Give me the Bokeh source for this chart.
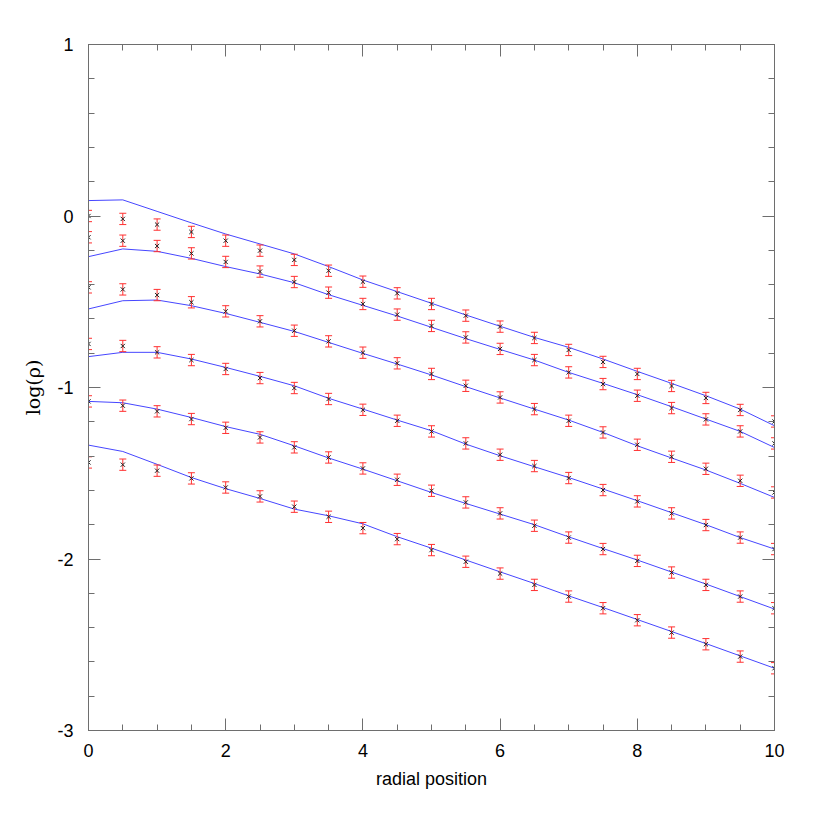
from bokeh.plotting import figure
from bokeh.models import (LinearAxis, SingleIntervalTicker, Range1d,
                          CustomJSTickFormatter)
from bokeh.embed import file_html
from bokeh.resources import INLINE

# ---------------- data ----------------
x_pos = [0.0, 0.5, 1.0, 1.5, 2.0, 2.5, 3.0, 3.5, 4.0, 4.5, 5.0,
         5.5, 6.0, 6.5, 7.0, 7.5, 8.0, 8.5, 9.0, 9.5, 10.0]

# measured points (black x with red error bars)
pts1 = [0.000, -0.017, -0.050, -0.093, -0.144, -0.202, -0.256, -0.319, -0.383, -0.451, -0.513,
        -0.581, -0.645, -0.711, -0.781, -0.851, -0.921, -0.991, -1.061, -1.131, -1.198]
pts2 = [-0.124, -0.144, -0.175, -0.218, -0.268, -0.324, -0.385, -0.447, -0.513, -0.575, -0.641,
        -0.708, -0.775, -0.840, -0.912, -0.980, -1.048, -1.120, -1.186, -1.256, -1.326]
pts3 = [-0.416, -0.428, -0.461, -0.503, -0.556, -0.614, -0.669, -0.731, -0.797, -0.859, -0.921,
        -0.990, -1.058, -1.126, -1.194, -1.262, -1.334, -1.404, -1.474, -1.544, -1.612]
pts4 = [-0.746, -0.758, -0.795, -0.840, -0.892, -0.945, -1.003, -1.067, -1.130, -1.194, -1.256,
        -1.326, -1.392, -1.458, -1.528, -1.598, -1.664, -1.734, -1.802, -1.875, -1.942]
pts5 = [-1.081, -1.106, -1.139, -1.184, -1.235, -1.291, -1.349, -1.408, -1.472, -1.538, -1.602,
        -1.670, -1.734, -1.806, -1.875, -1.942, -2.011, -2.079, -2.151, -2.219, -2.287]
pts6 = [-1.437, -1.450, -1.485, -1.530, -1.583, -1.635, -1.695, -1.754, -1.820, -1.884, -1.948,
        -2.016, -2.085, -2.151, -2.219, -2.287, -2.357, -2.429, -2.497, -2.569, -2.637]

# model curves (blue lines)
mod1 = [0.090, 0.094, 0.027, -0.040, -0.105, -0.163, -0.221, -0.295, -0.373, -0.441, -0.509,
        -0.577, -0.643, -0.708, -0.766, -0.834, -0.906, -0.976, -1.048, -1.126, -1.223]
mod2 = [-0.237, -0.192, -0.206, -0.247, -0.295, -0.338, -0.389, -0.459, -0.521, -0.583, -0.649,
        -0.715, -0.778, -0.840, -0.912, -0.976, -1.042, -1.112, -1.184, -1.256, -1.350]
mod3 = [-0.542, -0.494, -0.490, -0.523, -0.568, -0.620, -0.673, -0.737, -0.801, -0.863, -0.927,
        -0.995, -1.061, -1.126, -1.190, -1.262, -1.340, -1.411, -1.481, -1.559, -1.641]
mod4 = [-0.820, -0.795, -0.795, -0.834, -0.883, -0.935, -0.990, -1.063, -1.126, -1.190, -1.252,
        -1.330, -1.398, -1.462, -1.525, -1.592, -1.660, -1.730, -1.800, -1.875, -1.942]
mod5 = [-1.081, -1.089, -1.126, -1.175, -1.228, -1.273, -1.340, -1.411, -1.476, -1.544, -1.612,
        -1.676, -1.738, -1.800, -1.871, -1.939, -2.006, -2.076, -2.146, -2.219, -2.292]
mod6 = [-1.336, -1.373, -1.448, -1.525, -1.590, -1.647, -1.709, -1.748, -1.795, -1.870, -1.937,
        -2.006, -2.075, -2.143, -2.215, -2.283, -2.353, -2.423, -2.493, -2.565, -2.637]

err = 0.033  # half-length of the error bars

x_ticks_major = 2
y_ticks_major = 1

points = [pts1, pts2, pts3, pts4, pts5, pts6]
models = [mod1, mod2, mod3, mod4, mod5, mod6]

# ---------------- figure ----------------
p = figure(width=809, height=800,
           x_range=Range1d(0, 10), y_range=Range1d(-3, 1),
           x_axis_type=None, y_axis_type=None,
           output_backend="svg", toolbar_location=None,
           min_border_left=88, min_border_right=35,
           min_border_top=44, min_border_bottom=70)
p.outline_line_color = "#6e6e6e"
p.outline_line_width = 1
p.background_fill_color = "white"
p.border_fill_color = "white"

AX = "#6e6e6e"
FONT = "Liberation Sans"
plain = CustomJSTickFormatter(code="return tick.toFixed(0)")


def style_axis(ax, labels=True):
    ax.axis_line_color = AX
    ax.major_tick_line_color = AX
    ax.minor_tick_line_color = AX
    ax.major_tick_in = 12
    ax.major_tick_out = 0
    ax.minor_tick_in = 6
    ax.minor_tick_out = 0
    ax.major_label_text_font = FONT
    ax.major_label_text_font_size = "18px"
    ax.major_label_text_color = "black"
    ax.major_label_standoff = 13
    if labels:
        ax.formatter = plain
    else:
        ax.formatter = CustomJSTickFormatter(code="return ''")
        ax.major_label_standoff = 0


xb = LinearAxis(ticker=SingleIntervalTicker(interval=x_ticks_major, num_minor_ticks=4),
                axis_label="radial position")
style_axis(xb)
xb.axis_label_text_font = FONT
xb.axis_label_text_font_size = "18px"
xb.axis_label_text_font_style = "normal"
xb.axis_label_text_color = "black"
xb.axis_label_standoff = 9
p.add_layout(xb, "below")

yl = LinearAxis(ticker=SingleIntervalTicker(interval=y_ticks_major, num_minor_ticks=5),
                axis_label="log(ρ)")
style_axis(yl)
yl.major_label_standoff = 15
yl.axis_label_text_font = "DejaVu Serif"
yl.axis_label_text_font_size = "19px"
yl.axis_label_text_font_style = "normal"
yl.axis_label_text_color = "black"
yl.axis_label_standoff = 10
p.add_layout(yl, "left")

xt = LinearAxis(ticker=SingleIntervalTicker(interval=x_ticks_major, num_minor_ticks=4))
style_axis(xt, labels=False)
p.add_layout(xt, "above")

yr = LinearAxis(ticker=SingleIntervalTicker(interval=y_ticks_major, num_minor_ticks=5))
style_axis(yr, labels=False)
p.add_layout(yr, "right")

# ---------------- glyphs ----------------
for mod in models:
    p.line(x_pos, mod, line_color="#4646ff", line_width=1)

for pts in points:
    lo = [v - err for v in pts]
    hi = [v + err for v in pts]
    p.segment(x0=x_pos, y0=lo, x1=x_pos, y1=hi, line_color="#ff3030", line_width=1)
    p.scatter(x_pos, lo, marker="dash", size=7, line_color="#ff3030", line_width=1)
    p.scatter(x_pos, hi, marker="dash", size=7, line_color="#ff3030", line_width=1)
    p.scatter(x_pos, pts, marker="x", size=6, line_color="#222222", line_width=1)

open("out.html", "w").write(file_html(p, INLINE))
